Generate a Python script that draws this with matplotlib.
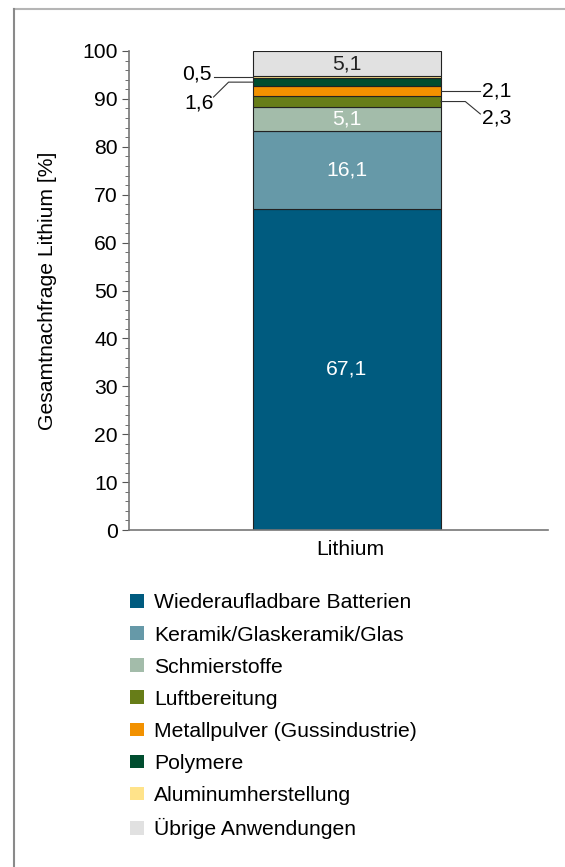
import matplotlib.pyplot as plt
from matplotlib.patches import Patch

plt.rcParams['font.family'] = ['Liberation Sans', 'DejaVu Sans']

# demand shares per application (percent), bottom to top
categories = [
    "Wiederaufladbare Batterien",
    "Keramik/Glaskeramik/Glas",
    "Schmierstoffe",
    "Luftbereitung",
    "Metallpulver (Gussindustrie)",
    "Polymere",
    "Aluminumherstellung",
    "Übrige Anwendungen",
]
shares = [67.1, 16.1, 5.1, 2.3, 2.1, 1.6, 0.5, 5.1]
colors = ["#005b7f", "#6699a8", "#a3bcaa", "#677d18",
          "#f29100", "#004d2f", "#ffe38a", "#e1e1e1"]
bar_label = "Lithium"
y_ticks = [0, 10, 20, 30, 40, 50, 60, 70, 80, 90, 100]

FS = 15.2

fig = plt.figure(figsize=(5.65, 8.67), dpi=100)
ax = fig.add_axes([129 / 565, 1 - 530 / 867, 419 / 565, 479 / 867])

bottom = 0.0
centers = []
for val, col in zip(shares, colors):
    ax.bar(0, val, width=1.0, bottom=bottom, color=col,
           edgecolor="#222222", linewidth=0.8)
    centers.append(bottom + val / 2)
    bottom += val

def fmt(v):
    return f"{v:.1f}".replace(".", ",")

# labels inside the larger segments
inside = {0: "white", 1: "white", 2: "white", 7: "#222222"}
for i, c in inside.items():
    ax.text(0, centers[i], fmt(shares[i]), ha="center", va="center",
            color=c, fontsize=FS)

# leader lines for the thin segments
lc = "#333333"
lw = 0.8
# Aluminumherstellung (left, straight)
y = centers[6]
ax.plot([-0.5, -0.71], [y, y], color=lc, lw=lw, clip_on=False)
ax.text(-0.72, y + 0.7, fmt(shares[6]), ha="right", va="center", fontsize=FS)
# Polymere (left, with a kink)
y = centers[5]
ax.plot([-0.5, -0.63, -0.71], [y, y, y - 3.1], color=lc, lw=lw, clip_on=False)
ax.text(-0.71, y - 4.3, fmt(shares[5]), ha="right", va="center", fontsize=FS)
# Metallpulver (right, straight)
y = centers[4]
ax.plot([0.5, 0.71], [y, y], color=lc, lw=lw, clip_on=False)
ax.text(0.72, y, fmt(shares[4]), ha="left", va="center", fontsize=FS)
# Luftbereitung (right, with a kink)
y = centers[3]
ax.plot([0.5, 0.63, 0.71], [y, y, y - 2.6], color=lc, lw=lw, clip_on=False)
ax.text(0.72, y - 3.4, fmt(shares[3]), ha="left", va="center", fontsize=FS)

ax.set_xlim(-1.16, 1.07)
ax.set_ylim(0, 100)
ax.set_yticks(y_ticks)
ax.set_yticks(range(0, 101, 2), minor=True)
ax.set_xticks([0.02])
ax.set_xticklabels([bar_label])
ax.tick_params(axis="y", which="major", labelsize=FS, length=5,
               color="#555555", pad=3)
ax.tick_params(axis="y", which="minor", length=3, color="#555555")
ax.tick_params(axis="x", length=0, labelsize=FS, pad=7)
for s in ["top", "right"]:
    ax.spines[s].set_visible(False)
for s in ["left", "bottom"]:
    ax.spines[s].set_color("#777777")
    ax.spines[s].set_linewidth(1.2)
ax.set_ylabel("Gesamtnachfrage Lithium [%]", fontsize=FS, labelpad=18)

handles = [Patch(facecolor=c, edgecolor="none") for c in colors]
fig.legend(handles, categories, loc="upper left",
           bbox_to_anchor=(122 / 565, 1 - 585 / 867), frameon=False,
           fontsize=FS, handlelength=0.62, handleheight=0.62,
           handletextpad=0.5, labelspacing=0.62, borderaxespad=0)

# thin frame on top and left edges of the figure
fig.add_artist(plt.Line2D([14 / 565, 1], [1 - 9 / 867, 1 - 9 / 867],
                          transform=fig.transFigure, color="#b5b5b5", lw=1.5))
fig.add_artist(plt.Line2D([14 / 565, 14 / 565], [0, 1 - 9 / 867],
                          transform=fig.transFigure, color="#8a8a8a", lw=1.5))

fig.savefig("out.png", dpi=100)
